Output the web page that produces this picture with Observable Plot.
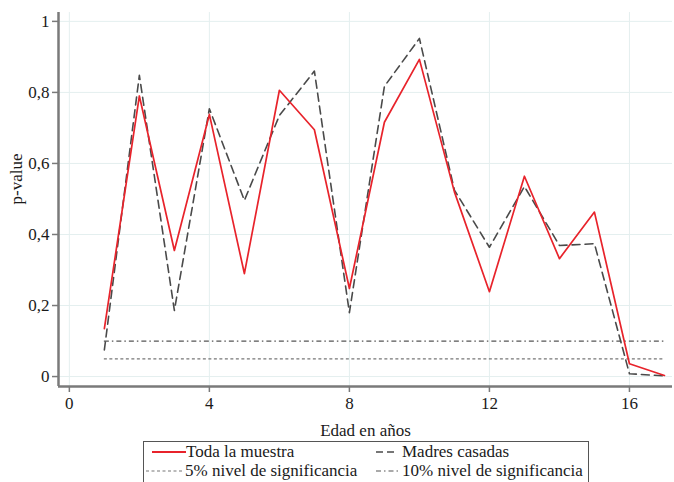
<!DOCTYPE html>
<html>
<head>
<meta charset="utf-8">
<script src="https://cdn.jsdelivr.net/npm/d3@7"></script>
<script src="https://cdn.jsdelivr.net/npm/@observablehq/plot@0.6"></script>
<style>
  html, body { margin: 0; padding: 0; background: #fff; }
  #wrap { position: relative; width: 674px; height: 482px; overflow: hidden; font-family: 'Liberation Serif', serif; }
  #wrap svg text { font-family: 'Liberation Serif', serif; }
  #legend { position: absolute; left: 143px; top: 441px; width: 446px; height: 44px; border: 1.3px solid #555; box-sizing: border-box; font-size: 17px; color: #1a1a1a; }
  .item { position: absolute; display: flex; align-items: center; white-space: nowrap; height: 18px; }
  .item svg { display: block; }
</style>
</head>
<body>
<div id="wrap"></div>
<script>
// ---- data ----
const ages = [1, 2, 3, 4, 5, 6, 7, 8, 9, 10, 11, 12, 13, 14, 15, 16, 17];
const todaLaMuestra = [0.135, 0.79, 0.355, 0.738, 0.29, 0.806, 0.695, 0.248, 0.716, 0.893, 0.52, 0.239, 0.564, 0.332, 0.463, 0.036, 0.003];
const madresCasadas = [0.075, 0.848, 0.186, 0.754, 0.496, 0.735, 0.86, 0.18, 0.817, 0.952, 0.525, 0.364, 0.535, 0.369, 0.374, 0.008, 0.002];
const sig5 = 0.05;
const sig10 = 0.10;
const xTicks = [0, 4, 8, 12, 16];
const yTicks = [0, 0.2, 0.4, 0.6, 0.8, 1];
const seriesNames = ["Toda la muestra", "Madres casadas", "5% nivel de significancia", "10% nivel de significancia"];
const xLabel = "Edad en años";
const yLabel = "p-value";

const xDomain = [-0.31, 17.23];
const yDomain = [-0.028, 1.025];

const rowsA = ages.map((a, i) => ({age: a, p: todaLaMuestra[i]}));
const rowsB = ages.map((a, i) => ({age: a, p: madresCasadas[i]}));
const fmt = d => String(d).replace(".", ",");

const axisColor = "#7a7a7a";
const red = "#e8232b";
const dark = "#4a4a4a";
const serif = "'Liberation Serif', serif";

const chart = Plot.plot({
  width: 674,
  height: 440,
  marginLeft: 58,
  marginRight: 2,
  marginTop: 12,
  marginBottom: 54,
  style: { fontFamily: serif, fontSize: "17px", color: "#1a1a1a", background: "#fff" },
  x: { domain: xDomain },
  y: { domain: yDomain },
  marks: [
    Plot.ruleY(yTicks, { stroke: "#e4efef", strokeWidth: 1 }),
    Plot.ruleX(xTicks, { stroke: "#e4efef", strokeWidth: 1 }),
    Plot.ruleY([sig10], { x1: ages[0], x2: ages[ages.length - 1], stroke: "#555", strokeWidth: 1.2, strokeDasharray: "5,3,1.5,3" }),
    Plot.ruleY([sig5], { x1: ages[0], x2: ages[ages.length - 1], stroke: "#777", strokeWidth: 1.2, strokeDasharray: "3,2.5" }),
    Plot.lineY(rowsB, { x: "age", y: "p", stroke: dark, strokeWidth: 1.6, strokeDasharray: "8,5" }),
    Plot.lineY(rowsA, { x: "age", y: "p", stroke: red, strokeWidth: 1.7 }),
    Plot.ruleX([xDomain[0]], { stroke: axisColor, strokeWidth: 2.5 }),
    Plot.ruleY([yDomain[0]], { stroke: axisColor, strokeWidth: 2.5 }),
    Plot.axisX(xTicks, { tickSize: 6, tickPadding: 4, stroke: axisColor, strokeWidth: 1.5, label: null, fontSize: 17 }),
    Plot.axisY(yTicks, { tickSize: 6, tickPadding: 3, stroke: axisColor, strokeWidth: 1.5, tickFormat: fmt, label: null, fontSize: 17 }),
    Plot.text([xLabel], { frameAnchor: "bottom", dy: 49, fontSize: 17 }),
    Plot.text([yLabel], { frameAnchor: "left", dx: -42, dy: 5, rotate: -90, fontSize: 17 })
  ]
});

const wrap = document.getElementById("wrap");
wrap.appendChild(chart);

// legend
const legend = document.createElement("div");
legend.id = "legend";
const swatch = (w, stroke, dash, sw) =>
  `<svg width="${w}" height="10"><line x1="0" y1="5" x2="${w}" y2="5" stroke="${stroke}" stroke-width="${sw}" ${dash ? `stroke-dasharray="${dash}"` : ""}/></svg>`;
const items = [
  { left: 8, top: 1, sw: swatch(34, red, null, 1.8), gap: 0, text: seriesNames[0] },
  { left: 232, top: 1, sw: swatch(18, dark, "7,4", 1.6), gap: 8, text: seriesNames[1] },
  { left: 2, top: 20, sw: swatch(38, "#777", "3,2.5", 1.2), gap: 1, text: seriesNames[2] },
  { left: 232, top: 20, sw: swatch(24, "#555", "5,3,1.5,3", 1.2), gap: 2, text: seriesNames[3] }
];
legend.innerHTML = items.map(it =>
  `<div class="item" style="left:${it.left}px;top:${it.top}px">${it.sw}<span style="margin-left:${it.gap}px">${it.text}</span></div>`
).join("");
wrap.appendChild(legend);
</script>
</body>
</html>
